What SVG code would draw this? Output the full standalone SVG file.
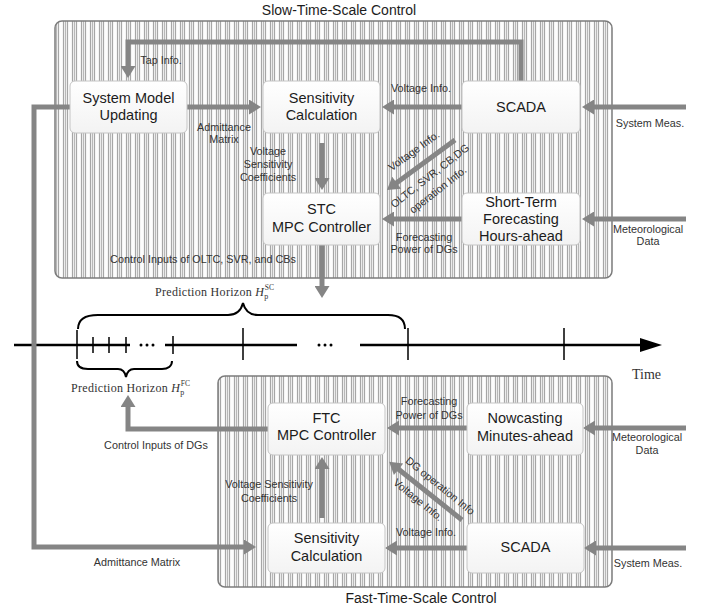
<svg xmlns="http://www.w3.org/2000/svg" width="704" height="609" viewBox="0 0 704 609">
<defs>
<pattern id="stripes" patternUnits="userSpaceOnUse" width="9" height="10">
<rect width="9" height="10" fill="#ececec"/>
<rect x="0" width="1" height="10" fill="#a6a6a6"/>
<rect x="2" width="1" height="10" fill="#b8b8b8"/>
<rect x="4" width="1" height="10" fill="#a6a6a6"/>
<rect x="5.5" width="3" height="10" fill="#fdfdfd"/>
</pattern>
<linearGradient id="nodefill" x1="0" y1="0" x2="0" y2="1">
<stop offset="0" stop-color="#ffffff"/>
<stop offset="1" stop-color="#f3f3f3"/>
</linearGradient>
<marker id="ah" markerUnits="userSpaceOnUse" markerWidth="14" markerHeight="15" viewBox="0 0 12 15" refX="2" refY="7.5" orient="auto">
<path d="M0,0 L12,7.5 L0,15 z" fill="#858585"/>
</marker>
</defs>
<style>
.panel{fill:url(#stripes);stroke:#7c7c7c;stroke-width:1.5}
.node rect{fill:url(#nodefill);stroke:#c4c4c4;stroke-width:1}
.nt{font-family:"Liberation Sans",Arial,sans-serif;font-size:14.5px;fill:#1c1c1c;text-anchor:middle}
.lb{font-family:"Liberation Sans",Arial,sans-serif;font-size:10.8px;fill:#333;text-anchor:middle}
.title{font-family:"Liberation Sans",Arial,sans-serif;font-size:14px;fill:#1c1c1c;text-anchor:middle}
.serif{font-family:"Liberation Serif","Times New Roman",serif;fill:#333}
.conn{fill:none;stroke:#858585;stroke-width:5}
.arr{marker-end:url(#ah)}
.tl{fill:none;stroke:#000;stroke-width:2.5}
.tick{stroke:#000;stroke-width:1.5}
.brace{fill:none;stroke:#000;stroke-width:2}
</style>

<rect x="0" y="0" width="704" height="609" fill="#ffffff"/>

<!-- panels -->
<g id="slow-panel">
<rect class="panel" x="55" y="21" width="557" height="257" rx="7"/>
<text class="title" x="339" y="15">Slow-Time-Scale Control</text>
</g>
<g id="fast-panel">
<rect class="panel" x="218" y="376" width="394" height="211" rx="7"/>
<text class="title" x="421" y="603">Fast-Time-Scale Control</text>
</g>

<!-- timeline -->
<g id="timeline">
<path class="tl" d="M14,345 H130 M165,345 H297 M360,345 H642"/>
<path d="M640,338 L662,345 L640,352 z" fill="#000"/>
<circle cx="141" cy="345" r="1.5"/><circle cx="147" cy="345" r="1.5"/><circle cx="153" cy="345" r="1.5"/>
<circle cx="319" cy="345" r="1.5"/><circle cx="325" cy="345" r="1.5"/><circle cx="331" cy="345" r="1.5"/>
<path class="tick" d="M77,330 V359 M93,337 V353 M109,337 V353 M126,337 V353 M173,336 V354 M243,328 V360 M408,328 V360 M564,328 V360"/>
<path class="brace" d="M78,329 C78,320 84,315 98,315 H228 C236,315 241,311 243,303 C245,311 250,315 258,315 H388 C400,315 405,320 405,329"/>
<path class="brace" d="M77,361 C77,366 81,369 88,369 H118 C122,369 125,372 126,377 C127,372 130,369 134,369 H162 C168,369 172,366 172,361"/>
<text class="serif" x="155" y="296" font-size="12" letter-spacing="0.3">Prediction Horizon <tspan font-style="italic">H</tspan><tspan font-size="8" dy="3">p</tspan><tspan font-size="7.5" dx="-4" dy="-9">SC</tspan></text>
<text class="serif" x="71" y="392" font-size="12" letter-spacing="0.3">Prediction Horizon <tspan font-style="italic">H</tspan><tspan font-size="8" dy="3">p</tspan><tspan font-size="7.5" dx="-4" dy="-9">FC</tspan></text>
<text class="serif" x="632" y="379" font-size="14">Time</text>
</g>

<!-- connectors -->
<g id="connectors">
<path class="conn arr" d="M521,81 V42 H128 V68"/>
<path class="conn arr" d="M187,107 H251"/>
<path class="conn arr" d="M322,143 V180"/>
<path class="conn arr" d="M462,107 H392"/>
<path class="conn arr" d="M455,140 L395,184"/>
<path class="conn arr" d="M462,219 H392"/>
<path class="conn arr" d="M686,107 H592"/>
<path class="conn arr" d="M686,219 H592"/>
<path class="conn arr" d="M322,245 V288"/>
<path class="conn arr" d="M70,107 H34 V547 H246"/>
<path class="conn arr" d="M467,428 H397"/>
<path class="conn arr" d="M686,428 H593"/>
<path class="conn arr" d="M467,548 H395"/>
<path class="conn arr" d="M686,548 H594"/>
<path class="conn arr" d="M462,520 L397,468"/>
<path class="conn arr" d="M322,518 V467"/>
<path class="conn arr" d="M268,429 H128 V405"/>

<text class="lb" x="161" y="64">Tap Info.</text>
<text class="lb" x="224" y="131">Admittance</text>
<text class="lb" x="224" y="143">Matrix</text>
<text class="lb" x="268" y="155">Voltage</text>
<text class="lb" x="268" y="168">Sensitivity</text>
<text class="lb" x="268" y="181">Coefficients</text>
<text class="lb" x="421" y="92">Voltage Info.</text>
<text class="lb" x="650" y="127">System Meas.</text>
<text class="lb" x="648" y="233">Meteorological</text>
<text class="lb" x="648" y="245">Data</text>
<text class="lb" x="424" y="241">Forecasting</text>
<text class="lb" x="424" y="253">Power of DGs</text>
<text class="lb" x="203" y="263">Control Inputs of OLTC, SVR, and CBs</text>
<text class="lb" transform="translate(414,151) rotate(-36)" x="0" y="3.5">Voltage Info.</text>
<text class="lb" transform="translate(430,176) rotate(-38)" x="0" y="3.5">OLTC, SVR, CB,DG</text>
<text class="lb" transform="translate(438,190) rotate(-38)" x="0" y="3.5">operation Info.</text>

<text class="lb" x="429" y="405">Forecasting</text>
<text class="lb" x="429" y="419">Power of DGs</text>
<text class="lb" x="647" y="441">Meteorological</text>
<text class="lb" x="647" y="454">Data</text>
<text class="lb" x="426" y="536">Voltage Info.</text>
<text class="lb" x="648" y="567">System Meas.</text>
<text class="lb" x="269" y="488">Voltage Sensitivity</text>
<text class="lb" x="269" y="502">Coefficients</text>
<text class="lb" x="156" y="449">Control Inputs of DGs</text>
<text class="lb" x="137" y="566">Admittance Matrix</text>
<text class="lb" transform="translate(440,486) rotate(39)" x="0" y="3.5">DG operation Info</text>
<text class="lb" transform="translate(418,500) rotate(39)" x="0" y="3.5">Voltage Info.</text>
</g>

<!-- nodes -->
<g id="system-model" class="node">
<rect x="70" y="81" width="117" height="52" rx="5"/>
<text class="nt" x="128.5" y="103">System Model</text>
<text class="nt" x="128.5" y="120">Updating</text>
</g>
<g id="sensitivity-slow" class="node">
<rect x="263" y="81" width="117" height="52" rx="5"/>
<text class="nt" x="321.5" y="103">Sensitivity</text>
<text class="nt" x="321.5" y="120">Calculation</text>
</g>
<g id="scada-slow" class="node">
<rect x="462" y="81" width="118" height="52" rx="5"/>
<text class="nt" x="521" y="112">SCADA</text>
</g>
<g id="stc-mpc" class="node">
<rect x="263" y="193" width="117" height="52" rx="5"/>
<text class="nt" x="321.5" y="214">STC</text>
<text class="nt" x="321.5" y="232">MPC Controller</text>
</g>
<g id="short-term" class="node">
<rect x="462" y="193" width="118" height="52" rx="5"/>
<text class="nt" x="521" y="207">Short-Term</text>
<text class="nt" x="521" y="224">Forecasting</text>
<text class="nt" x="521" y="241">Hours-ahead</text>
</g>
<g id="ftc-mpc" class="node">
<rect x="268" y="403" width="117" height="52" rx="5"/>
<text class="nt" x="326.5" y="423">FTC</text>
<text class="nt" x="326.5" y="440">MPC Controller</text>
</g>
<g id="nowcasting" class="node">
<rect x="467" y="403" width="116" height="52" rx="5"/>
<text class="nt" x="525" y="423">Nowcasting</text>
<text class="nt" x="525" y="441">Minutes-ahead</text>
</g>
<g id="sensitivity-fast" class="node">
<rect x="268" y="523" width="117" height="50" rx="5"/>
<text class="nt" x="326.5" y="543">Sensitivity</text>
<text class="nt" x="326.5" y="561">Calculation</text>
</g>
<g id="scada-fast" class="node">
<rect x="467" y="523" width="117" height="50" rx="5"/>
<text class="nt" x="525.5" y="552">SCADA</text>
</g>
</svg>
